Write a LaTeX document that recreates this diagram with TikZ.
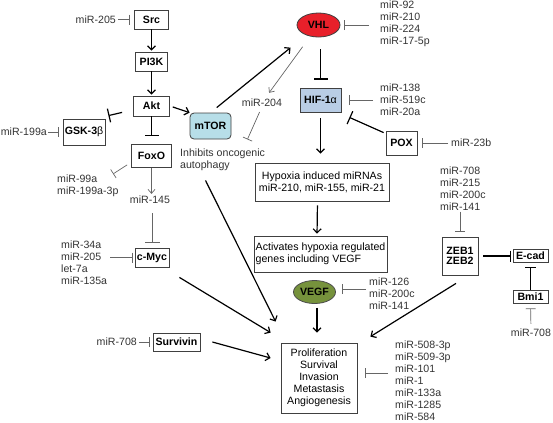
\documentclass[tikz,border=0pt]{standalone}
\usepackage{fontspec}
\setmainfont{Liberation Sans}
\usetikzlibrary{arrows.meta,calc,shapes.geometric}
\definecolor{mtorblue}{HTML}{B7DEE8}
\definecolor{hifblue}{HTML}{B9CDE5}
\definecolor{vhlred}{HTML}{E8202A}
\definecolor{vegfgreen}{HTML}{76923C}
\definecolor{txtgrey}{HTML}{333333}
\definecolor{lngrey}{HTML}{666666}
\begin{document}
\begin{tikzpicture}[x=1bp,y=-1bp,
  font=\fontsize{10.6bp}{12bp}\selectfont,
  box/.style={draw=black!75, line width=0.8bp, inner sep=0pt, align=center,
    font=\fontsize{10.6bp}{12bp}\selectfont\bfseries},
  plainbox/.style={box, font=\fontsize{10.6bp}{12bp}\selectfont},
  lbl/.style={text=txtgrey, inner sep=0pt, align=left},
  ar/.style={line width=1.2bp, -{Straight Barb[length=4bp,width=8bp,line width=1.2bp]}},
  inh/.style={line width=1.2bp, -{Bar[width=14bp,line width=1.2bp]}},
  inhs/.style={line width=1.2bp, -{Bar[width=11bp,line width=1bp]}},
  tinh/.style={draw=lngrey, line width=0.7bp, -{Bar[width=10bp,line width=0.7bp]}},
  tinhw/.style={draw=lngrey, line width=0.7bp, -{Bar[width=15bp,line width=0.7bp]}},
  tar/.style={draw=lngrey, line width=0.7bp, -{Straight Barb[length=4bp,width=7bp,line width=0.7bp]}},
]
\useasboundingbox (0,0) rectangle (553,422);

% ---- boxes ----
\node[box, minimum width=34bp, minimum height=19bp] (Src) at (151.5,19.5) {Src};
\node[box, minimum width=32bp, minimum height=19bp] (PI3K) at (151.5,61.5) {PI3K};
\node[box, minimum width=36bp, minimum height=20bp] (Akt) at (151.5,106) {Akt};
\node[box, minimum width=42bp, minimum height=26bp] (GSK) at (84,132) {GSK-3{\mdseries β}};
\node[box, minimum width=40bp, minimum height=23bp] (FoxO) at (151.5,156) {FoxO};
\node[box, minimum width=34bp, minimum height=19bp] (cMyc) at (152,257.5) {c-Myc};
\node[box, minimum width=47bp, minimum height=18bp] (Surv) at (176.5,342) {Survivin};
\node[box, rounded corners=4bp, fill=mtorblue, minimum width=41bp, minimum height=26bp] (mTOR) at (210.5,126) {mTOR};
\node[box, ellipse, fill=vhlred, minimum width=43bp, minimum height=24bp] (VHL) at (318.5,25) {VHL};
\node[box, fill=hifblue, minimum width=41bp, minimum height=24bp] (HIF) at (320.5,100) {HIF-1{\mdseries α}};
\node[box, minimum width=31bp, minimum height=24bp] (POX) at (401.5,143) {POX};
\node[plainbox, minimum width=134bp, minimum height=38bp] (Hyp) at (322,182) {Hypoxia induced miRNAs\\miR-210, miR-155, miR-21};
\node[plainbox, align=left, minimum width=133bp, minimum height=36bp] (Act) at (320.5,254) {Activates hypoxia regulated\\genes including VEGF};
\node[box, ellipse, draw=black!70, fill=vegfgreen, minimum width=42bp, minimum height=23bp] (VEGF) at (314.5,292) {VEGF};
\node[plainbox, minimum width=76bp, minimum height=70bp] (Prol) at (319,378) {Proliferation\\Survival\\Invasion\\Metastasis\\Angiogenesis};
\node[box, minimum width=36bp, minimum height=38bp] (ZEB) at (460,256) {ZEB1\\[-2bp]ZEB2};
\node[box, minimum width=35bp, minimum height=13bp] (Ecad) at (530.5,256) {E-cad};
\node[box, minimum width=35bp, minimum height=13bp] (Bmi) at (530.5,296.5) {Bmi1};

% ---- labels ----
\node[lbl, anchor=east] (m205) at (116,19.5) {miR-205};
\node[lbl, anchor=east] (m199a) at (47,132) {miR-199a};
\node[lbl, anchor=west] (m99) at (57,185.5) {miR-99a\\miR-199a-3p};
\node[lbl] (m145) at (150,200) {miR-145};
\node[lbl, anchor=west] (inhib) at (180,160) {Inhibits oncogenic\\autophagy};
\node[lbl] (m204) at (262,102.5) {miR-204};
\node[lbl, anchor=west] (mVHL) at (380,24) {miR-92\\miR-210\\miR-224\\miR-17-5p};
\node[lbl, anchor=west] (mHIF) at (380,100) {miR-138\\miR-519c\\miR-20a};
\node[lbl, anchor=west] (m23b) at (451,143) {miR-23b};
\node[lbl, anchor=west] (mZEB) at (440,188.5) {miR-708\\miR-215\\miR-200c\\miR-141};
\node[lbl, anchor=west] (mMyc) at (61,262.5) {miR-34a\\miR-205\\let-7a\\miR-135a};
\node[lbl, anchor=east] (m708a) at (137,342) {miR-708};
\node[lbl, anchor=west] (mVEGF) at (369,294) {miR-126\\miR-200c\\miR-141};
\node[lbl, anchor=west] (mProl) at (395,381) {miR-508-3p\\miR-509-3p\\miR-101\\miR-1\\miR-133a\\miR-1285\\miR-584};
\node[lbl] (m708b) at (531,333) {miR-708};

% ---- thick connectors ----
\draw[ar, shorten >=1bp] (Src) -- (PI3K);
\draw[ar, shorten >=1bp] (PI3K) -- (Akt);
\draw[ar, shorten <=3bp] (Akt.east) -- (mTOR.north west);
\draw[inh] ($(Akt.south west)+(-11,-4)$) -- ($(GSK.north east)+(3,-3)$);
\draw[inh, shorten >=8bp] (Akt) -- (FoxO);
\draw[ar, shorten <=8bp, shorten >=36bp] (mTOR.north) -- (VHL.center);
\draw[inh, shorten <=12bp, shorten >=8bp] (HIF.north |- VHL.south) -- (HIF.north);
\draw[inh] ($(POX.north west)+(-2,2)$) -- ($(HIF.south east)+(8,5)$);
\draw[ar, shorten <=6bp, shorten >=9bp] (HIF.south) -- (HIF.south |- Hyp.north);
\draw[ar, shorten <=4bp, shorten >=2bp] ($(Hyp.south)+(-4.5,0)$) -- ($(Act.north)+(-3.5,0)$);
\draw[ar, shorten <=4bp, shorten >=10bp] ($(VEGF.south)+(2.5,0)$) -- ($(VEGF.south |- Prol.north)+(2.5,0)$);
\draw[ar] ($(mTOR.south)+(-5,41)$) -- ($(Prol.north west)+(-5,-21)$);
\draw[ar] ($(cMyc.south east)+(10,10)$) -- ($(Prol.north west)+(-10,-10)$);
\draw[ar] ($(Surv.east)+(12,0)$) -- ($(Prol.west)+(-10,-20)$);
\draw[ar] ($(ZEB.south)+(-4,8)$) -- ($(Prol.north east)+(13,-6)$);
\draw[inhs, shorten <=5bp, shorten >=2bp] (ZEB.east |- Ecad.west) -- (Ecad.west);
\draw[inhs, shorten >=4.5bp] (Bmi.north) -- (Ecad.south);

% ---- thin connectors ----
\draw[tinh, shorten <=2bp, shorten >=4bp] (Src.west -| m205.east) -- (Src.west);
\draw[tinh, shorten <=1bp, shorten >=4bp] (GSK.west -| m199a.east) -- (GSK.west);
\draw[tinh] ($(FoxO.south west)+(-4,-3)$) -- ($(FoxO.south west)+(-18,6)$);
\draw[tar, shorten >=2bp] (FoxO.south) -- (FoxO.south |- m145.north);
\draw[tinhw, shorten <=9bp, shorten >=5bp] (m145.south -| cMyc.north) -- (cMyc.north);
\draw[tinh, shorten <=3bp, shorten >=2bp] (cMyc.west -| mMyc.east) -- (cMyc.west);
\draw[tinh, shorten <=2bp, shorten >=3bp] (Surv.west -| m708a.east) -- (Surv.west);
\draw[tar, shorten <=27bp, shorten >=12bp] (VHL.center) -- (m204.center);
\draw[tinh, shorten <=6bp] (m204.south) -- ($(mTOR.south east)+(16,0)$);
\draw[tinh, shorten <=11bp, shorten >=3.5bp] (VHL.east -| mVHL.west) -- (VHL.east);
\draw[tinh, shorten <=7bp, shorten >=7.5bp] (HIF.east -| mHIF.west) -- (HIF.east);
\draw[tinh, shorten <=3bp, shorten >=5bp] (POX.east -| m23b.west) -- (POX.east);
\draw[tinh, shorten <=3bp, shorten >=6bp] ($(VEGF.east -| mVEGF.west)+(0,-3)$) -- ($(VEGF.east)+(0,-3)$);
\draw[tinh, shorten <=7bp, shorten >=8bp] ($(Prol.east -| mProl.west)+(0,-5)$) -- ($(Prol.east)+(0,-5)$);
\draw[tinh, shorten <=1bp, shorten >=5bp] (mZEB.south -| ZEB.north) -- (ZEB.north);
\draw[tinh, shorten <=5bp, shorten >=5bp] (m708b.north) -- (Bmi.south);
\end{tikzpicture}
\end{document}
